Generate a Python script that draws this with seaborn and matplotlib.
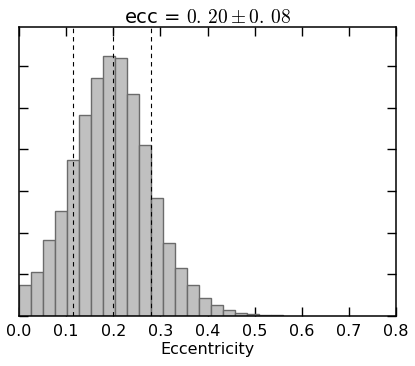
import numpy as np
import pandas as pd
import matplotlib
matplotlib.use("Agg")
import matplotlib.pyplot as plt
import seaborn as sns

# histogram of eccentricity samples (counts)
bin_width = 0.0255
counts = [73, 105, 181, 252, 375, 481, 571, 624, 620, 533, 409, 282,
          176, 115, 73, 44, 26, 15, 8, 5, 3, 1]
# 16th / 50th / 84th percentiles
percentiles = [0.115, 0.200, 0.280]
title = r"ecc = $0.\,20\pm0.\,08$"

edges = np.arange(len(counts) + 1) * bin_width
centers = edges[:-1] + bin_width / 2
df = pd.DataFrame({"ecc": centers, "n": counts})

sns.set_style("white")
plt.rcParams["mathtext.fontset"] = "cm"
plt.rcParams["text.color"] = "k"
plt.rcParams["axes.labelcolor"] = "k"
plt.rcParams["xtick.color"] = "k"
plt.rcParams["ytick.color"] = "k"

fig = plt.figure(figsize=(4.15, 3.66), dpi=100)
ax = fig.add_axes([0.046, 0.137, 0.908, 0.789])

sns.histplot(data=df, x="ecc", weights="n", binwidth=bin_width,
             binrange=(0, edges[-1]), ax=ax,
             color="#c0c0c0", edgecolor="#6b6b6b", linewidth=1.0, alpha=1)

for p in percentiles:
    ax.axvline(p, color="k", linestyle=(0, (4, 3.5)), linewidth=0.8)

ax.set_xlim(0, 0.8)
ax.set_ylim(0, 693)
ax.set_xticks(np.arange(0, 0.81, 0.1))
ax.set_yticks(np.arange(0, 693, 100))
ax.set_yticklabels([])
ax.tick_params(direction="in", length=6.5, width=1.0, top=True, right=True,
               left=True, bottom=True, labelsize=11.5, pad=6)
for s in ax.spines.values():
    s.set_linewidth(1.1)
    s.set_color("k")
ax.set_xlabel("Eccentricity", fontsize=11.5, labelpad=2)
ax.set_ylabel("")
ax.set_title(title, fontsize=14, pad=3)

plt.savefig("out.png", dpi=100)
